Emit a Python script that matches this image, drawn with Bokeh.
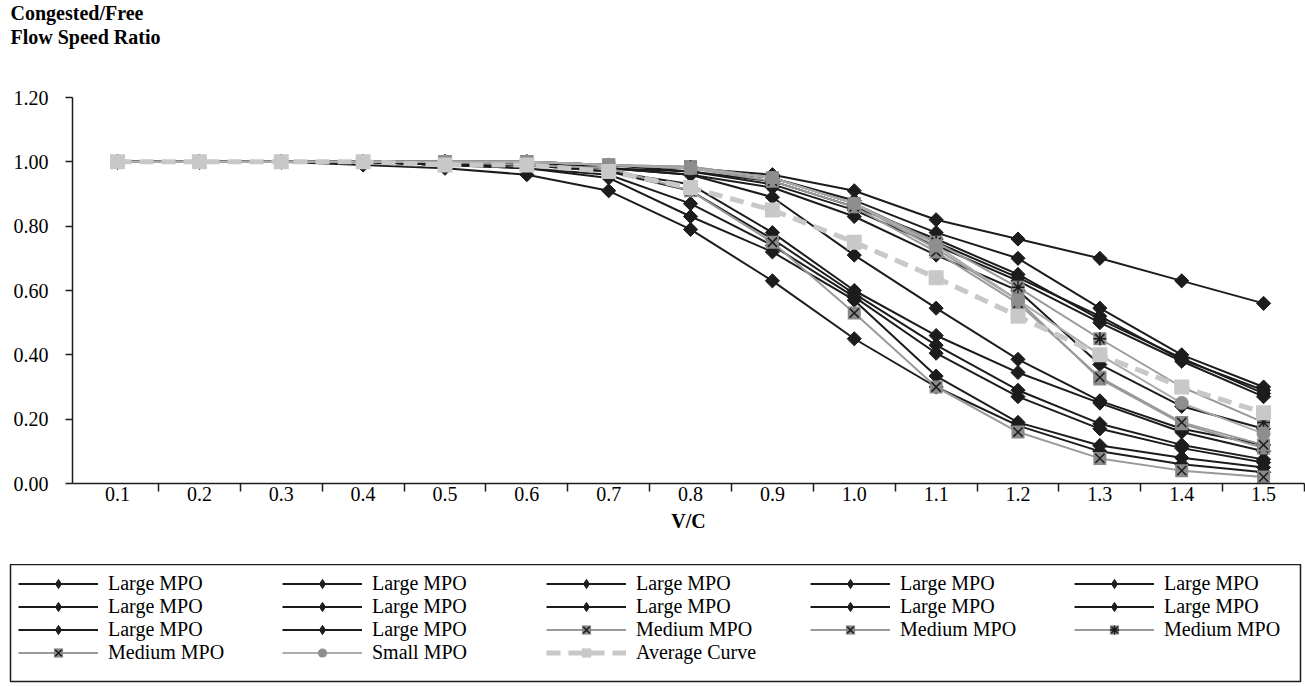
from bokeh.plotting import figure
from bokeh.layouts import column
from bokeh.models import Legend, LegendItem, FixedTicker, PrintfTickFormatter, Range1d, Plot
from bokeh.embed import file_html
from bokeh.resources import INLINE
from bokeh.core.properties import value
import numpy as np

# V/C ratio categories
vc = [0.1, 0.2, 0.3, 0.4, 0.5, 0.6, 0.7, 0.8, 0.9, 1.0, 1.1, 1.2, 1.3, 1.4, 1.5]

# Congested / free-flow speed ratio curves by MPO size
large_mpo = [
    [1.00, 1.00, 1.00, 1.00, 1.00, 1.00, 0.99, 0.98, 0.96, 0.91, 0.82, 0.76, 0.70, 0.63, 0.56],
    [1.00, 1.00, 1.00, 1.00, 1.00, 1.00, 0.99, 0.98, 0.95, 0.88, 0.78, 0.70, 0.545, 0.40, 0.30],
    [1.00, 1.00, 1.00, 1.00, 1.00, 0.99, 0.99, 0.97, 0.94, 0.86, 0.76, 0.65, 0.51, 0.39, 0.28],
    [1.00, 1.00, 1.00, 1.00, 1.00, 0.99, 0.98, 0.97, 0.93, 0.85, 0.74, 0.63, 0.50, 0.38, 0.27],
    [1.00, 1.00, 1.00, 1.00, 0.99, 0.99, 0.98, 0.96, 0.92, 0.83, 0.71, 0.60, 0.37, 0.24, 0.17],
    [1.00, 1.00, 1.00, 1.00, 0.99, 0.99, 0.98, 0.96, 0.89, 0.71, 0.545, 0.386, 0.257, 0.17, 0.12],
    [1.00, 1.00, 1.00, 1.00, 0.99, 0.99, 0.97, 0.93, 0.78, 0.60, 0.46, 0.345, 0.25, 0.16, 0.10],
    [1.00, 1.00, 1.00, 1.00, 0.99, 0.99, 0.97, 0.91, 0.76, 0.59, 0.43, 0.29, 0.186, 0.12, 0.075],
    [1.00, 1.00, 1.00, 1.00, 0.99, 0.98, 0.96, 0.87, 0.74, 0.58, 0.405, 0.27, 0.17, 0.11, 0.065],
    [1.00, 1.00, 1.00, 1.00, 0.99, 0.98, 0.95, 0.83, 0.72, 0.57, 0.334, 0.19, 0.118, 0.08, 0.05],
    [1.00, 1.00, 1.00, 0.99, 0.98, 0.96, 0.91, 0.79, 0.63, 0.45, 0.30, 0.18, 0.10, 0.06, 0.035],
    [1.00, 1.00, 1.00, 1.00, 1.00, 1.00, 0.99, 0.98, 0.95, 0.87, 0.75, 0.64, 0.52, 0.385, 0.29],
]
medium_mpo = [
    [1.00, 1.00, 1.00, 1.00, 1.00, 0.99, 0.98, 0.91, 0.75, 0.53, 0.30, 0.16, 0.078, 0.04, 0.02],
    [1.00, 1.00, 1.00, 1.00, 1.00, 1.00, 0.99, 0.985, 0.95, 0.87, 0.73, 0.57, 0.325, 0.186, 0.11],
    [1.00, 1.00, 1.00, 1.00, 1.00, 1.00, 0.99, 0.985, 0.95, 0.87, 0.75, 0.61, 0.45, 0.30, 0.19],
    [1.00, 1.00, 1.00, 1.00, 1.00, 1.00, 0.99, 0.98, 0.94, 0.86, 0.72, 0.56, 0.33, 0.19, 0.12],
]
medium_marks = ["x", "x", "asterisk", "x"]
small_mpo = [1.00, 1.00, 1.00, 1.00, 1.00, 1.00, 0.99, 0.98, 0.95, 0.87, 0.74, 0.57, 0.40, 0.25, 0.155]
average_curve = [1.00, 1.00, 1.00, 1.00, 0.99, 0.99, 0.97, 0.92, 0.85, 0.75, 0.64, 0.52, 0.40, 0.30, 0.22]

y_ticks = [0.0, 0.2, 0.4, 0.6, 0.8, 1.0, 1.2]

SERIF = "Liberation Serif"
BLACK = "#1c1c1c"
FS = "20px"
CAN_UNALIGN = "frame_align" in Plot.properties()


def draw_series(fig, large_marker, large_angle, large_size):
    """Draw every curve on fig; return (label, renderers) pairs in legend order."""
    out = []
    for ys in large_mpo:
        ln = fig.line(vc, ys, line_color=BLACK, line_width=2)
        mk = fig.scatter(vc, ys, marker=large_marker, angle=large_angle, size=large_size,
                         fill_color=BLACK, line_color=BLACK)
        out.append(("Large MPO", [ln, mk]))
    for ys, mark in zip(medium_mpo, medium_marks):
        ln = fig.line(vc, ys, line_color="#9a9a9a", line_width=2)
        sq = fig.scatter(vc, ys, marker="square", size=13, fill_color="#8a8a8a", line_color=None)
        ov = fig.scatter(vc, ys, marker=mark, size=13, line_color=BLACK, line_width=1.5)
        out.append(("Medium MPO", [ln, sq, ov]))
    ln = fig.line(vc, small_mpo, line_color="#ababab", line_width=2)
    mk = fig.scatter(vc, small_mpo, marker="circle", size=14, fill_color="#8e8e8e", line_color=None)
    out.append(("Small MPO", [ln, mk]))
    ln = fig.line(vc, average_curve, line_color="#c8c8c8", line_width=5, line_dash="14 8")
    mk = fig.scatter(vc, average_curve, marker="square", size=15, fill_color="#c8c8c8", line_color=None)
    out.append(("Average Curve", [ln, mk]))
    return out


def bare(fig):
    fig.outline_line_color = None
    fig.xgrid.visible = False
    fig.ygrid.visible = False
    if CAN_UNALIGN:
        fig.frame_align = False


# ---- y-axis caption strip ----
tf = figure(width=1305, height=60, output_backend="svg", toolbar_location=None,
            x_axis_type=None, y_axis_type=None,
            min_border_left=72, min_border_right=1, min_border_top=0, min_border_bottom=0)
bare(tf)
tf.title.text = "Congested/Free\nFlow Speed Ratio"
tf.title.align = "left"
tf.title.offset = -62
tf.title.vertical_align = "top"
tf.title.standoff = 2
tf.title.text_font = SERIF
tf.title.text_font_style = "bold"
tf.title.text_font_size = FS
tf.title.text_color = "black"
tf.title.text_line_height = 1.1

# ---- main chart ----
p = figure(width=1305, height=504, output_backend="svg", toolbar_location=None,
           x_range=Range1d(0.045, 1.55), y_range=Range1d(0, 1.2),
           min_border_left=72, min_border_right=1, min_border_top=37, min_border_bottom=81)
bare(p)

# category boundaries get the tick marks, centres get the labels
bounds = [(a + b) / 2 for a, b in zip(vc[:-1], vc[1:])] + [vc[-1] + (vc[-1] - vc[-2]) / 2]

xa = p.xaxis[0]
xa.ticker = FixedTicker(ticks=vc, minor_ticks=bounds)
xa.formatter = PrintfTickFormatter(format="%.1f")
xa.major_tick_line_color = None
xa.major_tick_out = 0
xa.major_tick_in = 0
xa.minor_tick_out = 8
xa.minor_tick_in = 0
xa.minor_tick_line_color = BLACK
xa.minor_tick_line_width = 1.5
xa.axis_line_color = BLACK
xa.axis_line_width = 1.5
xa.major_label_standoff = -5
xa.major_label_text_font = SERIF
xa.major_label_text_font_size = FS
xa.major_label_text_color = "black"
xa.axis_label = "V/C"
xa.axis_label_text_font = SERIF
xa.axis_label_text_font_size = FS
xa.axis_label_text_font_style = "bold"
xa.axis_label_text_color = "black"
xa.axis_label_standoff = 6

ya = p.yaxis[0]
ya.ticker = FixedTicker(ticks=y_ticks)
ya.formatter = PrintfTickFormatter(format="%.2f")
ya.major_tick_out = 7
ya.major_tick_in = 0
ya.major_tick_line_color = BLACK
ya.major_tick_line_width = 1.5
ya.minor_tick_line_color = None
ya.axis_line_color = BLACK
ya.axis_line_width = 1.5
ya.major_label_standoff = 17
ya.major_label_text_font = SERIF
ya.major_label_text_font_size = FS
ya.major_label_text_color = "black"

# large-MPO points: squares turned 45 degrees read as even diamonds
draw_series(p, "square", np.pi / 4, 10)

# ---- legend panel (its frame outline is the legend box; the series sit out of view) ----
lg = figure(width=1305, height=122, output_backend="svg", toolbar_location=None,
            x_axis_type=None, y_axis_type=None,
            x_range=Range1d(0.045, 1.55), y_range=Range1d(2, 3),
            min_border_left=10 if CAN_UNALIGN else 72, min_border_right=5 if CAN_UNALIGN else 1,
            min_border_top=0, min_border_bottom=5)
bare(lg)
lg.outline_line_color = BLACK
lg.outline_line_width = 1.5

items = [LegendItem(label=value(lbl), renderers=rs)
         for lbl, rs in draw_series(lg, "diamond", 0, 14)]
legend = Legend(items=items, location="top_left", orientation="horizontal", ncols=5,
                padding=8, spacing=0, margin=0,
                glyph_width=80, glyph_height=23, label_height=20, label_width=174,
                label_standoff=10, label_text_font=SERIF, label_text_font_size=FS,
                label_text_color="black",
                border_line_color=BLACK, border_line_alpha=0, background_fill_alpha=0)
lg.add_layout(legend)

layout = column(tf, p, lg, spacing=0)
open("out.html", "w").write(file_html(layout, INLINE))
